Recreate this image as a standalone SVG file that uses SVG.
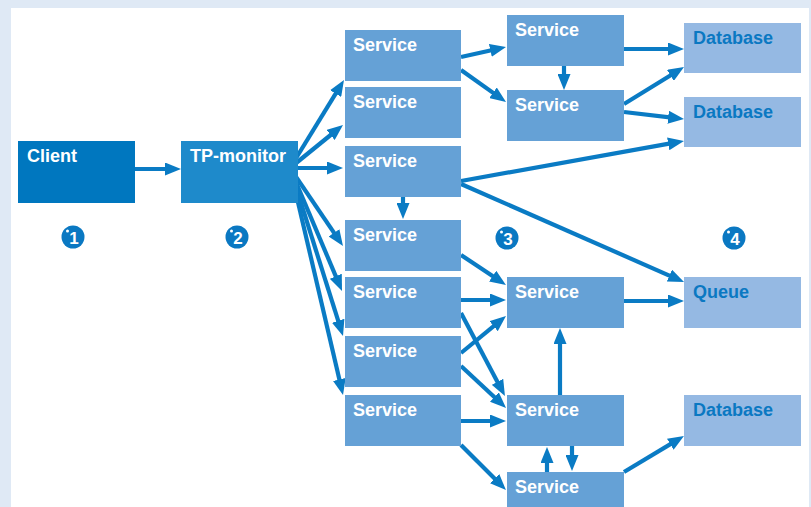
<svg xmlns="http://www.w3.org/2000/svg" width="811" height="507" viewBox="0 0 811 507">
  <defs>
    <marker id="head" markerUnits="userSpaceOnUse" markerWidth="16" markerHeight="13" refX="8" refY="6.5" orient="auto">
      <path d="M0,0 L16,6.5 L0,13 z" fill="#0a7bc4"/>
    </marker>
  </defs>
  <style>
    .edge { stroke: #0a7bc4; stroke-width: 4.2; fill: none; marker-end: url(#head); }
    .svc { fill: #65a1d6; }
    .store { fill: #95b9e3; }
    .lbl { font-family: "Liberation Sans", Arial, sans-serif; font-weight: bold; font-size: 18px; fill: #ffffff; }
    .lbl-store { font-family: "Liberation Sans", Arial, sans-serif; font-weight: bold; font-size: 18px; fill: #0a78c2; }
    .badge { fill: #0a78c2; }
    .badge-num { font-family: "Liberation Sans", Arial, sans-serif; font-weight: bold; font-size: 17px; fill: #ffffff; text-anchor: middle; }
  </style>

  <!-- frame -->
  <rect x="0" y="0" width="811" height="507" fill="#dfe9f5"/>
  <rect x="11" y="8" width="798" height="499" fill="#ffffff"/>

  <!-- connectors -->
  <g id="connectors">
    <line class="edge" x1="135" y1="169" x2="173" y2="169"/>
    <!-- fan-out from the TP-monitor -->
    <line class="edge" x1="290" y1="168" x2="339.8" y2="86.8"/>
    <line class="edge" x1="290" y1="168" x2="336.8" y2="130"/>
    <line class="edge" x1="290" y1="168" x2="335" y2="168"/>
    <line class="edge" x1="290" y1="168" x2="338.5" y2="239.4"/>
    <line class="edge" x1="290" y1="168" x2="338.9" y2="283.6"/>
    <line class="edge" x1="290" y1="168" x2="340.6" y2="328.4"/>
    <line class="edge" x1="290" y1="168" x2="341.2" y2="387.2"/>
    <!-- upper services -->
    <line class="edge" x1="461" y1="57" x2="498.2" y2="48.7"/>
    <line class="edge" x1="461" y1="70" x2="499.5" y2="97.4"/>
    <line class="edge" x1="564" y1="66" x2="564" y2="82"/>
    <line class="edge" x1="624" y1="49" x2="676" y2="49"/>
    <line class="edge" x1="624" y1="104" x2="677.2" y2="71.2"/>
    <line class="edge" x1="624" y1="112" x2="676.1" y2="118.1"/>
    <line class="edge" x1="461" y1="181" x2="676.1" y2="142.4"/>
    <line class="edge" x1="461" y1="184" x2="676.7" y2="278.8"/>
    <line class="edge" x1="403" y1="197" x2="403" y2="211"/>
    <!-- lower services -->
    <line class="edge" x1="461" y1="255" x2="499.3" y2="280.6"/>
    <line class="edge" x1="461" y1="300" x2="498" y2="300"/>
    <line class="edge" x1="461" y1="313" x2="501.2" y2="388.9"/>
    <line class="edge" x1="461" y1="353" x2="499.8" y2="321.1"/>
    <line class="edge" x1="461" y1="366" x2="500.2" y2="402.5"/>
    <line class="edge" x1="461" y1="421" x2="498" y2="421"/>
    <line class="edge" x1="461" y1="445" x2="500.3" y2="484.3"/>
    <line class="edge" x1="560" y1="395" x2="560" y2="336"/>
    <line class="edge" x1="547" y1="472" x2="547" y2="455"/>
    <line class="edge" x1="572" y1="446" x2="572" y2="463"/>
    <line class="edge" x1="624" y1="301" x2="676" y2="301"/>
    <line class="edge" x1="624" y1="472" x2="677.1" y2="440.1"/>
  </g>

  <!-- nodes -->
  <g id="client">
    <rect x="18" y="141" width="117" height="62" fill="#0077bf"/>
    <text class="lbl" x="27" y="162">Client</text>
  </g>
  <g id="tp-monitor">
    <rect x="181" y="141" width="117" height="62" fill="#1e8acb"/>
    <text class="lbl" x="190" y="162">TP-monitor</text>
  </g>

  <g id="service-1"><rect class="svc" x="345" y="30" width="116" height="51"/><text class="lbl" x="353" y="51">Service</text></g>
  <g id="service-2"><rect class="svc" x="345" y="87" width="116" height="51"/><text class="lbl" x="353" y="108">Service</text></g>
  <g id="service-3"><rect class="svc" x="345" y="146" width="116" height="51"/><text class="lbl" x="353" y="167">Service</text></g>
  <g id="service-4"><rect class="svc" x="345" y="220" width="116" height="51"/><text class="lbl" x="353" y="241">Service</text></g>
  <g id="service-5"><rect class="svc" x="345" y="277" width="116" height="51"/><text class="lbl" x="353" y="298">Service</text></g>
  <g id="service-6"><rect class="svc" x="345" y="336" width="116" height="51"/><text class="lbl" x="353" y="357">Service</text></g>
  <g id="service-7"><rect class="svc" x="345" y="395" width="116" height="51"/><text class="lbl" x="353" y="416">Service</text></g>

  <g id="service-a"><rect class="svc" x="507" y="15" width="117" height="51"/><text class="lbl" x="515" y="36">Service</text></g>
  <g id="service-b"><rect class="svc" x="507" y="90" width="117" height="51"/><text class="lbl" x="515" y="111">Service</text></g>
  <g id="service-c"><rect class="svc" x="507" y="277" width="117" height="51"/><text class="lbl" x="515" y="298">Service</text></g>
  <g id="service-d"><rect class="svc" x="507" y="395" width="117" height="51"/><text class="lbl" x="515" y="416">Service</text></g>
  <g id="service-e"><rect class="svc" x="507" y="472" width="117" height="40"/><text class="lbl" x="515" y="493">Service</text></g>

  <g id="database-1"><rect class="store" x="684" y="23" width="117" height="50"/><text class="lbl-store" x="693" y="44">Database</text></g>
  <g id="database-2"><rect class="store" x="684" y="97" width="117" height="50"/><text class="lbl-store" x="693" y="118">Database</text></g>
  <g id="queue"><rect class="store" x="684" y="277" width="117" height="51"/><text class="lbl-store" x="693" y="298">Queue</text></g>
  <g id="database-3"><rect class="store" x="684" y="395" width="117" height="51"/><text class="lbl-store" x="693" y="416">Database</text></g>

  <!-- numbered badges -->
  <g id="badge-1"><circle class="badge" cx="73" cy="237" r="11.5"/><circle cx="67.5" cy="231" r="1.5" fill="#fff"/><text class="badge-num" x="74" y="243.5">1</text></g>
  <g id="badge-2"><circle class="badge" cx="237" cy="237" r="11.5"/><circle cx="231.5" cy="231" r="1.5" fill="#fff"/><text class="badge-num" x="238" y="243.5">2</text></g>
  <g id="badge-3"><circle class="badge" cx="507" cy="238" r="11.5"/><circle cx="501.5" cy="232" r="1.5" fill="#fff"/><text class="badge-num" x="508" y="244.5">3</text></g>
  <g id="badge-4"><circle class="badge" cx="734" cy="238" r="11.5"/><circle cx="728.5" cy="232" r="1.5" fill="#fff"/><text class="badge-num" x="735" y="244.5">4</text></g>
</svg>
